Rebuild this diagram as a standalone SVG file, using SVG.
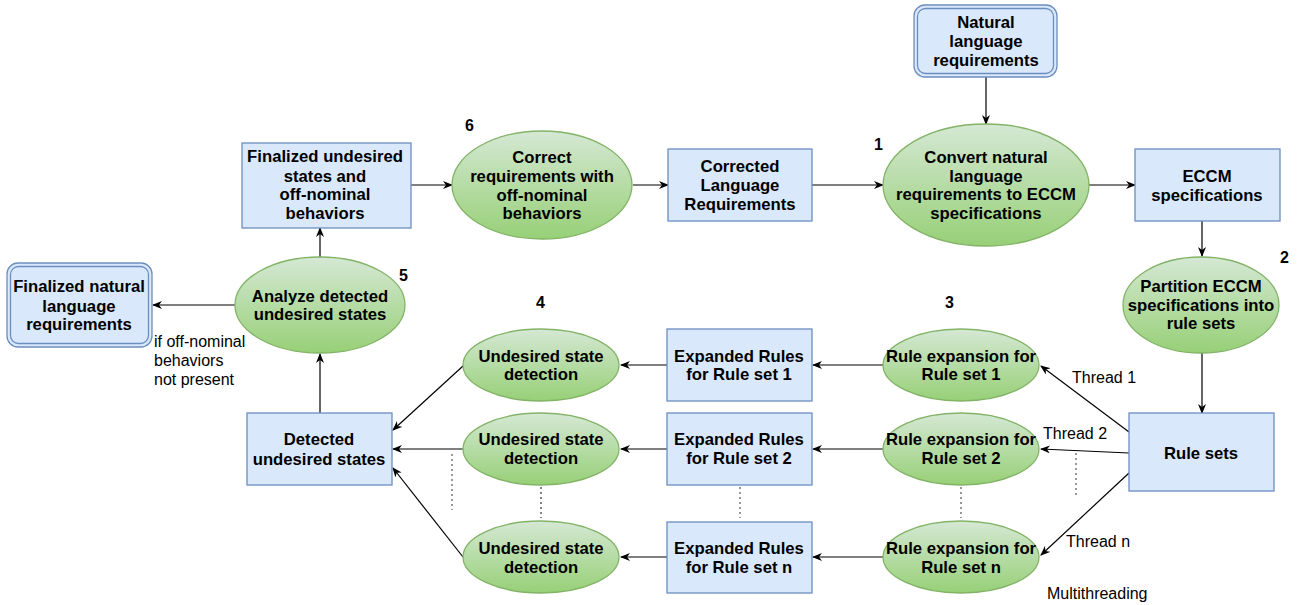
<svg xmlns="http://www.w3.org/2000/svg" width="1303" height="605" viewBox="0 0 1303 605">
<style>
.box{fill:#dae8fc;stroke:#6c8ebf;stroke-width:1.3}
.dbl{fill:none;stroke:#6c8ebf;stroke-width:1.3}
.ell{fill:url(#g);stroke:#82b366;stroke-width:1.3}
text{font-family:"Liberation Sans",Arial,sans-serif;font-size:16px;fill:#000}
.b{font-weight:bold;text-anchor:middle;font-size:16.7px}
.n{font-weight:bold}
.c{fill:none;stroke:#000;stroke-width:1.2;marker-end:url(#a)}
.d{fill:none;stroke:#555;stroke-width:1.2;stroke-dasharray:2 3}
</style>
<defs>
<linearGradient id="g" x1="0" y1="0" x2="0" y2="1">
<stop offset="0" stop-color="#d5e8d4"/>
<stop offset="1" stop-color="#97d077"/>
</linearGradient>
<marker id="a" viewBox="0 0 10 8" refX="9" refY="4" markerWidth="10" markerHeight="8" markerUnits="userSpaceOnUse" orient="auto">
<path d="M0,0 L10,4 L0,8 L3,4 z" fill="#000"/>
</marker>
</defs>

<g id="connectors">
<line class="c" x1="986" y1="77" x2="986" y2="124"/>
<line class="c" x1="1089" y1="185" x2="1135" y2="185"/>
<line class="c" x1="1202" y1="221" x2="1202" y2="256"/>
<line class="c" x1="1202" y1="353" x2="1202" y2="413"/>
<line class="c" x1="1129" y1="432" x2="1041" y2="366"/>
<line class="c" x1="1129" y1="453" x2="1041" y2="449"/>
<line class="c" x1="1129" y1="473" x2="1041" y2="555"/>
<line class="c" x1="883" y1="365" x2="813" y2="365"/>
<line class="c" x1="883" y1="449" x2="813" y2="449"/>
<line class="c" x1="883" y1="557" x2="813" y2="557"/>
<line class="c" x1="667" y1="365" x2="621" y2="365"/>
<line class="c" x1="667" y1="449" x2="621" y2="449"/>
<line class="c" x1="667" y1="557" x2="621" y2="557"/>
<line class="c" x1="463" y1="366" x2="393" y2="430"/>
<line class="c" x1="463" y1="449" x2="393" y2="449"/>
<line class="c" x1="463" y1="557" x2="393" y2="468"/>
<line class="c" x1="320" y1="413" x2="320" y2="354"/>
<line class="c" x1="235" y1="305" x2="153" y2="305"/>
<line class="c" x1="320" y1="257" x2="320" y2="228"/>
<line class="c" x1="411" y1="185" x2="452" y2="185"/>
<line class="c" x1="633" y1="185" x2="668" y2="185"/>
<line class="c" x1="812" y1="185" x2="883" y2="185"/>
<line class="d" x1="1076" y1="453" x2="1076" y2="497"/>
<line class="d" x1="961" y1="487" x2="961" y2="518"/>
<line class="d" x1="740" y1="487" x2="740" y2="518"/>
<line class="d" x1="541" y1="487" x2="541" y2="518" style="stroke:#333"/>
<line class="d" x1="452" y1="454" x2="452" y2="510"/>
</g>

<g id="natural-language-requirements">
<rect class="box" x="914" y="5" width="143" height="72" rx="11"/>
<rect class="dbl" x="917.5" y="8.5" width="136" height="65" rx="8"/>
<text class="b" x="986" y="28">Natural</text>
<text class="b" x="986" y="47">language</text>
<text class="b" x="986" y="66">requirements</text>
</g>

<g id="convert">
<ellipse class="ell" cx="986" cy="185" rx="103" ry="61"/>
<text class="b" x="986" y="163">Convert natural</text>
<text class="b" x="986" y="182">language</text>
<text class="b" x="986" y="200">requirements to ECCM</text>
<text class="b" x="986" y="219">specifications</text>
<text class="n" x="874" y="150">1</text>
</g>

<g id="eccm-specifications">
<rect class="box" x="1135" y="149" width="145" height="72"/>
<text class="b" x="1207" y="182">ECCM</text>
<text class="b" x="1207" y="201">specifications</text>
</g>

<g id="partition">
<ellipse class="ell" cx="1201" cy="305" rx="78" ry="48"/>
<text class="b" x="1201" y="292">Partition ECCM</text>
<text class="b" x="1201" y="311">specifications into</text>
<text class="b" x="1201" y="329">rule sets</text>
<text class="n" x="1280" y="263">2</text>
</g>

<g id="rule-sets">
<rect class="box" x="1129" y="413" width="145" height="78"/>
<text class="b" x="1201" y="459">Rule sets</text>
</g>

<g id="rule-expansion-1">
<ellipse class="ell" cx="961" cy="365" rx="78" ry="36"/>
<text class="b" x="961" y="362">Rule expansion for</text>
<text class="b" x="961" y="380">Rule set 1</text>
<text class="n" x="945" y="308">3</text>
</g>
<g id="rule-expansion-2">
<ellipse class="ell" cx="961" cy="449" rx="78" ry="36"/>
<text class="b" x="961" y="445">Rule expansion for</text>
<text class="b" x="961" y="464">Rule set 2</text>
</g>
<g id="rule-expansion-n">
<ellipse class="ell" cx="961" cy="557" rx="78" ry="36"/>
<text class="b" x="961" y="554">Rule expansion for</text>
<text class="b" x="961" y="573">Rule set n</text>
</g>

<g id="thread-labels">
<text x="1072" y="383">Thread 1</text>
<text x="1043" y="439">Thread 2</text>
<text x="1066" y="547">Thread n</text>
<text x="1047" y="599">Multithreading</text>
</g>

<g id="expanded-rules-1">
<rect class="box" x="667" y="329" width="145" height="72"/>
<text class="b" x="739" y="362">Expanded Rules</text>
<text class="b" x="739" y="380">for Rule set 1</text>
</g>
<g id="expanded-rules-2">
<rect class="box" x="667" y="413" width="145" height="72"/>
<text class="b" x="739" y="445">Expanded Rules</text>
<text class="b" x="739" y="464">for Rule set 2</text>
</g>
<g id="expanded-rules-n">
<rect class="box" x="667" y="522" width="145" height="71"/>
<text class="b" x="739" y="554">Expanded Rules</text>
<text class="b" x="739" y="573">for Rule set n</text>
</g>

<g id="detection-1">
<ellipse class="ell" cx="541" cy="365" rx="78" ry="36"/>
<text class="b" x="541" y="362">Undesired state</text>
<text class="b" x="541" y="380">detection</text>
<text class="n" x="536" y="308">4</text>
</g>
<g id="detection-2">
<ellipse class="ell" cx="541" cy="449" rx="78" ry="36"/>
<text class="b" x="541" y="445">Undesired state</text>
<text class="b" x="541" y="464">detection</text>
</g>
<g id="detection-n">
<ellipse class="ell" cx="541" cy="557" rx="78" ry="36"/>
<text class="b" x="541" y="554">Undesired state</text>
<text class="b" x="541" y="573">detection</text>
</g>

<g id="detected-undesired-states">
<rect class="box" x="247" y="413" width="145" height="72"/>
<text class="b" x="319" y="445">Detected</text>
<text class="b" x="319" y="465">undesired states</text>
</g>

<g id="analyze">
<ellipse class="ell" cx="320" cy="305" rx="85" ry="48"/>
<text class="b" x="320" y="302">Analyze detected</text>
<text class="b" x="320" y="320">undesired states</text>
<text class="n" x="399" y="281">5</text>
</g>

<g id="finalized-natural">
<rect class="box" x="7" y="263" width="145" height="84" rx="11"/>
<rect class="dbl" x="10.5" y="266.5" width="138" height="77" rx="8"/>
<text class="b" x="79" y="292">Finalized natural</text>
<text class="b" x="79" y="312">language</text>
<text class="b" x="79" y="330">requirements</text>
</g>
<g id="condition-label">
<text x="154" y="347">if off-nominal</text>
<text x="154" y="366">behaviors</text>
<text x="154" y="385">not present</text>
</g>

<g id="finalized-undesired">
<rect class="box" x="242" y="143" width="169" height="85"/>
<text class="b" x="325" y="162">Finalized undesired</text>
<text class="b" x="325" y="182">states and</text>
<text class="b" x="325" y="200">off-nominal</text>
<text class="b" x="325" y="219">behaviors</text>
</g>

<g id="correct-requirements">
<ellipse class="ell" cx="542" cy="185" rx="90" ry="54"/>
<text class="b" x="542" y="163">Correct</text>
<text class="b" x="542" y="182">requirements with</text>
<text class="b" x="542" y="201">off-nominal</text>
<text class="b" x="542" y="219">behaviors</text>
<text class="n" x="465" y="131">6</text>
</g>

<g id="corrected-language">
<rect class="box" x="668" y="149" width="144" height="72"/>
<text class="b" x="740" y="172">Corrected</text>
<text class="b" x="740" y="191">Language</text>
<text class="b" x="740" y="210">Requirements</text>
</g>
</svg>
